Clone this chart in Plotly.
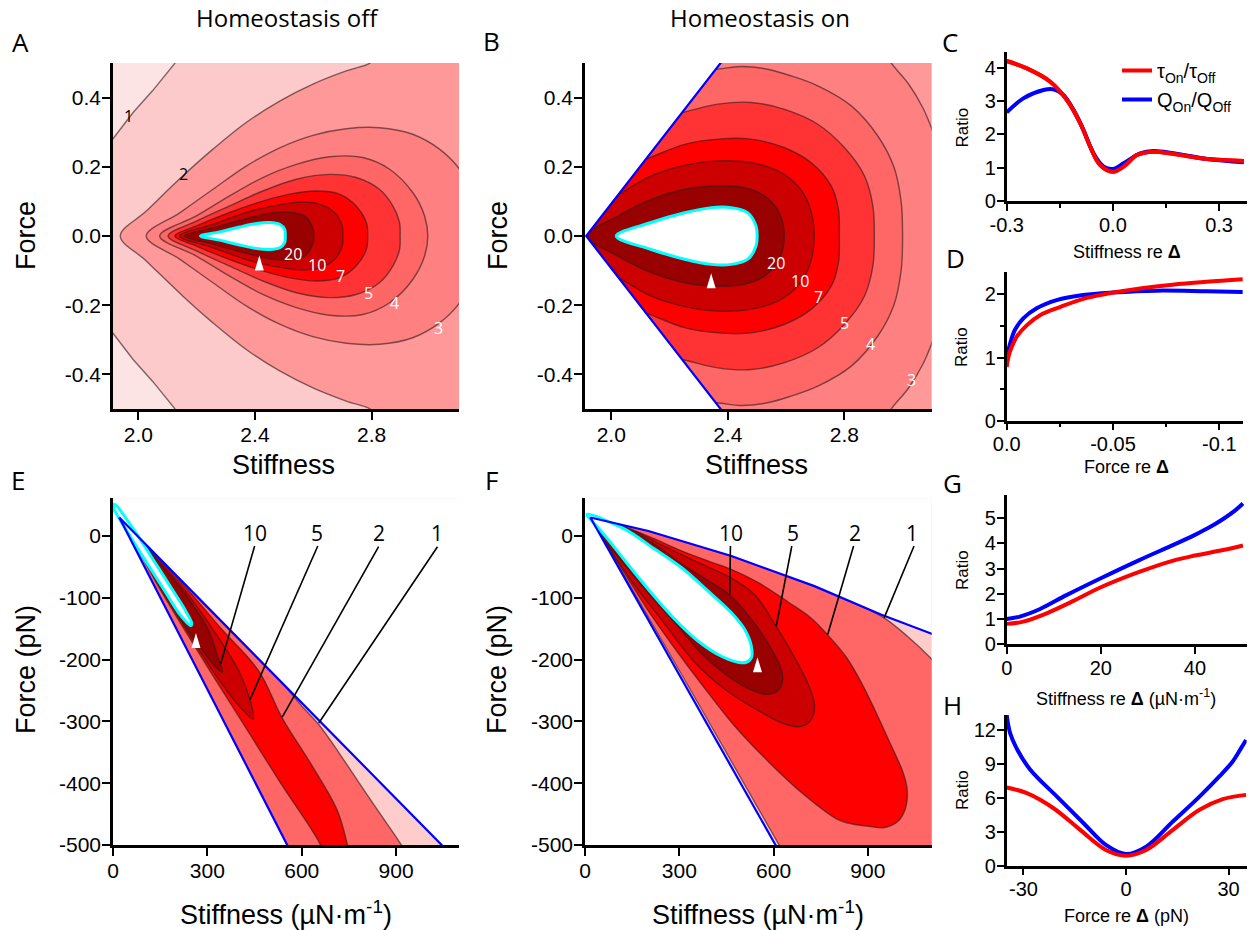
import plotly.graph_objects as go

W, H = 1255, 930

# ================= Panel C : ratio vs stiffness re Δ =================
C_tau_x = [-0.3, -0.243, -0.177, -0.13, -0.092, -0.064, -0.036, 0.0, 0.03, 0.068, 0.115, 0.172, 0.266, 0.37]
C_tau_y = [4.2, 3.98, 3.58, 3.03, 2.33, 1.63, 1.08, 0.88, 1.03, 1.38, 1.48, 1.41, 1.26, 1.2]
C_q_x = [-0.3, -0.253, -0.196, -0.168, -0.14, -0.111, -0.083, -0.055, -0.026, 0.0, 0.03, 0.077, 0.115, 0.172, 0.266, 0.37]
C_q_y = [2.66, 3.08, 3.33, 3.35, 3.18, 2.73, 2.13, 1.43, 1.03, 0.96, 1.13, 1.43, 1.5, 1.43, 1.26, 1.16]

# ================= Panel D : ratio vs force re Δ =================
D_tau_x = [0, -0.0008, -0.0024, -0.0047, -0.0094, -0.0157, -0.0251, -0.036, -0.05, -0.0627, -0.078, -0.094, -0.111]
D_tau_y = [0.85, 1.01, 1.17, 1.33, 1.51, 1.67, 1.80, 1.93, 2.03, 2.095, 2.155, 2.20, 2.24]
D_q_x = [0, -0.0016, -0.0039, -0.0078, -0.0141, -0.0235, -0.036, -0.05, -0.0705, -0.094, -0.111]
D_q_y = [0.99, 1.22, 1.44, 1.62, 1.78, 1.91, 1.99, 2.03, 2.06, 2.05, 2.04]

# ================= Panel G =================
G_q_x = [0, 2.8, 7.1, 12.7, 20, 28.3, 35.4, 40, 43, 46, 48.5, 50.2]
G_q_y = [1.0, 1.1, 1.4, 1.95, 2.62, 3.35, 3.94, 4.34, 4.63, 4.97, 5.3, 5.58]
G_tau_x = [0, 3.5, 8.5, 14.2, 20, 28.3, 35.4, 40, 46, 50.2]
G_tau_y = [0.81, 0.9, 1.23, 1.72, 2.26, 2.88, 3.32, 3.52, 3.74, 3.92]

# ================= Panel H =================
H_q_x = [-34.9, -33.9, -31.9, -28, -20.2, -12.4, -5.9, 0, 5.9, 13.7, 21.5, 27.3, 31.2, 33.7, 35.1]
H_q_y = [13.3, 11.7, 10.3, 8.47, 6.1, 3.75, 1.83, 1.03, 1.68, 3.9, 6.1, 7.88, 9.2, 10.4, 11.1]
H_tau_x = [-34.9, -29, -21.2, -13.4, -5.9, 0, 5.9, 13.7, 21.5, 28.3, 35.1]
H_tau_y = [6.9, 6.4, 5.07, 3.16, 1.39, 0.88, 1.39, 3.16, 4.93, 5.87, 6.25]

# ================= Panel A : contours (upper halves, mirrored about Force = 0) =================
A_frame_x = [1.8, 3.3, 3.3, 1.8]
A_frame_y = [-0.6, -0.6, 0.6, 0.6]
A_c1_x = [1.89, 1.913, 1.982, 2.050, 2.125, 2.15, 1.85]
A_c1_y = [0.255, 0.281, 0.357, 0.421, 0.499, 0.53, 0.56]
A_c2_x = [1.938, 2.027, 2.153, 2.256, 2.370, 2.485, 2.599, 2.713, 2.793, 2.82, 3.2, 3.2]
A_c2_y = [0, 0.072, 0.174, 0.251, 0.328, 0.39, 0.439, 0.477, 0.499, 0.52, 0.52, 0]
A_c3_x = [2.027, 2.142, 2.256, 2.370, 2.485, 2.599, 2.713, 2.827, 2.941, 3.033, 3.102, 3.16, 3.18]
A_c3_y = [0, 0.067, 0.135, 0.202, 0.255, 0.291, 0.310, 0.313, 0.294, 0.251, 0.193, 0.1, 0]
A_c4_x = [2.073, 2.199, 2.313, 2.427, 2.542, 2.656, 2.770, 2.862, 2.942, 2.982, 2.993]
A_c4_y = [0, 0.058, 0.116, 0.169, 0.207, 0.229, 0.227, 0.193, 0.125, 0.058, 0]
A_c5_x = [2.102, 2.199, 2.313, 2.427, 2.542, 2.656, 2.747, 2.827, 2.873, 2.896, 2.898]
A_c5_y = [0, 0.043, 0.087, 0.130, 0.164, 0.178, 0.169, 0.135, 0.087, 0.039, 0]
A_c7_x = [2.125, 2.199, 2.313, 2.427, 2.519, 2.610, 2.690, 2.747, 2.782, 2.787]
A_c7_y = [0, 0.029, 0.068, 0.101, 0.121, 0.130, 0.121, 0.087, 0.039, 0]
A_c10_x = [2.142, 2.256, 2.370, 2.462, 2.553, 2.622, 2.673, 2.699, 2.702]
A_c10_y = [0, 0.034, 0.068, 0.087, 0.098, 0.092, 0.068, 0.029, 0]
A_c20_x = [2.159, 2.256, 2.370, 2.450, 2.519, 2.570, 2.596, 2.602]
A_c20_y = [0, 0.024, 0.050, 0.066, 0.069, 0.058, 0.029, 0]
A_cyan_x = [2.213, 2.279, 2.347, 2.405, 2.450, 2.485, 2.502, 2.504]
A_cyan_y = [0, 0.012, 0.026, 0.036, 0.039, 0.034, 0.019, 0]
A_mark = (2.415, -0.078)
A_lab_text = ['1', '2', '20', '10', '7', '5', '4', '3']
A_lab_x = [1.966, 2.154, 2.531, 2.612, 2.694, 2.788, 2.880, 3.028]
A_lab_y = [0.347, 0.178, -0.053, -0.084, -0.116, -0.164, -0.193, -0.265]
A_lab_col = ['black', 'black', 'white', 'white', 'white', 'white', 'white', 'white']

# ================= Panel B =================
B_frame_x = [1.8, 3.3, 3.3, 1.8]
B_frame_y = [-0.6, -0.6, 0.6, 0.6]
B_blue_x = [2.394, 1.914, 2.394]
B_blue_y = [0.52, 0, -0.52]
B_cover_x = [1.914, 2.394, 1.8, 1.8, 2.394]
B_cover_y = [0, 0.52, 0.6, -0.6, -0.52]
B_c3_x = [1.85, 2.90, 2.961, 3.02, 3.07, 3.105, 3.14, 3.2, 3.22]
B_c3_y = [0.6, 0.58, 0.5, 0.44, 0.37, 0.30, 0.22, 0.1, 0]
B_c4_x = [1.85, 2.359, 2.45, 2.537, 2.62, 2.709, 2.824, 2.915, 2.970, 2.995, 3.0]
B_c4_y = [0.46, 0.482, 0.49, 0.482, 0.462, 0.434, 0.376, 0.289, 0.2, 0.1, 0]
B_c5_x = [1.85, 2.244, 2.366, 2.480, 2.595, 2.709, 2.801, 2.869, 2.898, 2.903]
B_c5_y = [0.28, 0.357, 0.381, 0.386, 0.366, 0.323, 0.255, 0.174, 0.087, 0]
B_c7_x = [1.85, 2.119, 2.252, 2.366, 2.480, 2.595, 2.686, 2.755, 2.780, 2.783]
B_c7_y = [0.14, 0.222, 0.265, 0.280, 0.280, 0.255, 0.212, 0.145, 0.077, 0]
B_c10_x = [1.85, 2.025, 2.137, 2.252, 2.366, 2.480, 2.572, 2.640, 2.680, 2.697]
B_c10_y = [0.04, 0.120, 0.174, 0.204, 0.217, 0.212, 0.188, 0.145, 0.087, 0]
B_c20_x = [1.914, 2.023, 2.137, 2.252, 2.366, 2.457, 2.526, 2.577, 2.594]
B_c20_y = [0, 0.058, 0.106, 0.135, 0.145, 0.140, 0.116, 0.067, 0]
B_cyan_x = [2.017, 2.137, 2.252, 2.343, 2.412, 2.469, 2.497, 2.501]
B_cyan_y = [0, 0.039, 0.067, 0.082, 0.082, 0.067, 0.029, 0]
B_mark = (2.343, -0.129)
B_lab_text = ['20', '10', '7', '5', '4', '3']
B_lab_x = [2.566, 2.649, 2.711, 2.80, 2.890, 3.029]
B_lab_y = [-0.077, -0.130, -0.176, -0.25, -0.311, -0.417]

# ================= Panel E (pN, µN/m) =================
E_frame_x = [-100, 1300, 1300, -100]
E_frame_y = [-600, -600, 200, 200]
E_blue_up_x = [20, 1083.7]
E_blue_up_y = [30, -520]
E_blue_lo_x = [20, 574]
E_blue_lo_y = [30, -520]
E_cov_up_x = [-100, 20, 1238, 1300, 1300, -100]
E_cov_up_y = [92, 30, -600, -600, 200, 200]
E_cov_lo_x = [20, 654.7, -100, -100]
E_cov_lo_y = [30, -600, -600, 92]
E_c1_x = [-100, 300, 480, 540, 600, 654, 720, 783, 850, 913, 945, 980, -100]
E_c1_y = [92, -114.8, -207.8, -239, -275, -305, -352, -400, -450, -497, -525, -600, -600]
E_c2_x = [30, 91, 150, 227, 309, 403, 533, 657, 690, 760, 744.1, 712.4, 627.9, 538, 464, 346.7, 237, 137, 30]
E_c2_y = [24, -32.4, -86.5, -151.4, -218.9, -294.6, -400, -497.3, -540, -540, -497.3, -443.2, -367.6, -294.6, -218.9, -151.4, -86.5, -32.4, 24]
E_c5_x = [35, 95, 154, 233, 318, 402, 446, 435.5, 400.6, 318, 226, 132, 35]
E_c5_y = [22, -32.4, -86.5, -151.4, -218.9, -275.7, -296.2, -264.9, -218.9, -151.4, -86.5, -32.4, 22]
E_c10_x = [38, 98, 158, 238, 315, 347.8, 334, 302.3, 218, 128, 38]
E_c10_y = [20, -32.4, -86.5, -151.4, -205.4, -220.5, -197.3, -151.4, -86.5, -32.4, 20]
E_cyan_x = [4.2, 65.5, 123.7, 185, 231.5, 250.5, 247.3, 210.3, 161.7, 100.4, 44.4, 2.1, 4.2]
E_cyan_y = [51.4, 10.8, -35.1, -83.8, -121.6, -141.6, -144.9, -125.4, -86.5, -37.8, 8.1, 45.9, 51.4]
E_mark = (263.7, -169.1)
E_lab_text = ['10', '5', '2', '1']
E_lab_x = [450.3, 649, 844.5, 1031.6]
E_lab_y = [5, 5, 5, 5]
E_lead_x0 = [450.3, 651.1, 844.5, 1031.6]
E_lead_y0 = [-16.2, -16.2, -17.3, -17.3]
E_lead_x1 = [342.5, 435.5, 538, 654.3]
E_lead_y1 = [-206.5, -264.9, -293, -302.7]

# ================= Panel F =================
F_frame_x = [-100, 1300, 1300, -100]
F_frame_y = [-650, -650, 200, 200]
F_blue_up_x = [17, 201.8, 465.8, 729.9, 941.2, 1099.6, 1200]
F_blue_up_y = [30, 8.1, -32.4, -81.1, -127, -157.8, -177]
F_blue_lo_x = [17, 672.8]
F_blue_lo_y = [30, -560]
F_cov_up_x = [-100, 17, 201.8, 465.8, 729.9, 941.2, 1099.6, 1200, 1200, -100]
F_cov_up_y = [43.9, 30, 8.1, -32.4, -81.1, -127, -157.8, -177, 200, 200]
F_cov_lo_x = [17, 717, -100, -100]
F_cov_lo_y = [30, -600, -600, 43.9]
F_c1_x = [-100, 17, 201.8, 465.8, 729.9, 880, 951.7, 1025.6, 1099.6, 1140, 1180, 1180, 752, 614, 296, 17]
F_c1_y = [43.9, 30, 8.1, -32.4, -81.1, -113.7, -132.4, -162.2, -197.3, -220, -250, -620, -620, -497, -214, 30]
F_c2_x = [20, 128, 223, 307, 400, 465, 550, 650, 720, 772, 830, 880, 930, 975, 1010, 1025, 1020, 995, 950, 908, 850, 801, 700, 589, 480, 377, 280, 200, 128, 60, 20]
F_c2_y = [28, 14, -5, -24, -42, -54, -75, -108, -133, -160, -195, -238, -290, -340, -380, -410, -440, -462, -472, -470, -466, -458, -420, -368, -310, -244, -178, -120, -62, -8, 28]
F_c5_x = [20, 128, 223, 307, 400, 465, 540, 608, 665, 710, 730, 722, 690, 640, 560, 450, 350, 250, 150, 60, 20]
F_c5_y = [28, 15, -9, -30, -52, -68, -95, -146, -195, -240, -272, -295, -308, -305, -285, -250, -205, -140, -74, -6, 28]
F_c10_x = [20, 128, 223, 307, 392, 460, 530, 590, 622, 629, 615, 576, 520, 450, 370, 290, 200, 128, 64, 20]
F_c10_y = [28, 13, -14, -45, -72, -95, -135, -180, -212, -232, -250, -256, -247, -225, -190, -143, -92, -48, -8, 28]
F_cyan_x = [6.3, 127.8, 222.9, 307.4, 391.9, 465.8, 508.1, 529.2, 529.2, 513.4, 487, 434.1, 360.2, 286.3, 201.8, 127.8, 64.4, 22.2, 6.3]
F_cyan_y = [35.1, 10.8, -21.6, -51.4, -89.2, -124.3, -151.4, -178.4, -197.3, -204.3, -204.3, -194.6, -170.3, -135.1, -86.5, -40.5, 0, 24.3, 35.1]
F_mark = (548.7, -208.3)
F_lab_text = ['10', '5', '2', '1']
F_lab_x = [465.8, 661.2, 858.8, 1041.5]
F_lab_y = [5, 5, 5, 5]
F_lead_x0 = [462.7, 658, 854.5, 1046.8]
F_lead_y0 = [-16.2, -16.2, -16.2, -16.2]
F_lead_x1 = [460.5, 608.4, 772.2, 951.7]
F_lead_y1 = [-94.6, -145.9, -159.5, -132.4]

# ================= styling =================
LC = 'rgba(50,28,28,0.62)'
RED = '#ff0000'
BLUE = '#0000ff'
CYAN = '#00ffff'
TFONT = 'Open Sans'
AFONT = 'Liberation Sans, Arial'

fig = go.Figure()


def add_poly(xs, ys, fill, ax, line_color=LC, lw=1.4, shape='spline'):
    fig.add_trace(go.Scatter(
        x=list(xs), y=list(ys), mode='lines', fill='toself', fillcolor=fill,
        line=dict(color=line_color, width=lw, shape=shape, simplify=False),
        xaxis='x' + ax, yaxis='y' + ax, hoverinfo='skip', showlegend=False))


def add_line(xs, ys, color, lw, ax, shape='linear', name=None, legend=False):
    fig.add_trace(go.Scatter(
        x=list(xs), y=list(ys), mode='lines', name=name,
        line=dict(color=color, width=lw, shape=shape),
        xaxis='x' + ax, yaxis='y' + ax, hoverinfo='skip', showlegend=legend))


def mirror(xs, ys):
    X = list(xs) + list(xs[-2::-1])
    Y = list(ys) + [-v for v in ys[-2::-1]]
    return X, Y


def neg(v):
    return [-a for a in v]


# ---------- Panel A ----------
add_poly(A_frame_x, A_frame_y, '#fccaca', '', lw=0, shape='linear')
add_poly(A_c1_x, A_c1_y, '#fde4e4', '', shape='linear')
add_poly(A_c1_x, neg(A_c1_y), '#fde4e4', '', shape='linear')
for cx, cy, col in [(A_c2_x, A_c2_y, '#ff9999'), (A_c3_x, A_c3_y, '#ff8080'),
                    (A_c4_x, A_c4_y, '#ff6666'), (A_c5_x, A_c5_y, '#ff3333'),
                    (A_c7_x, A_c7_y, '#ff0000'), (A_c10_x, A_c10_y, '#cc0000'),
                    (A_c20_x, A_c20_y, '#990000')]:
    X, Y = mirror(cx, cy)
    add_poly(X, Y, col, '')
X, Y = mirror(A_cyan_x, A_cyan_y)
add_poly(X, Y, 'white', '', line_color=CYAN, lw=3)

# ---------- Panel B ----------
add_poly(B_frame_x, B_frame_y, '#ff9999', '2', lw=0, shape='linear')
for cx, cy, col in [(B_c3_x, B_c3_y, '#ff8080'), (B_c4_x, B_c4_y, '#ff6666'),
                    (B_c5_x, B_c5_y, '#ff3333'), (B_c7_x, B_c7_y, '#ff0000'),
                    (B_c10_x, B_c10_y, '#cc0000'), (B_c20_x, B_c20_y, '#990000')]:
    X, Y = mirror(cx, cy)
    add_poly(X, Y, col, '2')
add_poly(B_cover_x, B_cover_y, 'white', '2', lw=0, shape='linear')
X, Y = mirror(B_cyan_x, B_cyan_y)
add_poly(X, Y, 'white', '2', line_color=CYAN, lw=3)
add_line(B_blue_x, B_blue_y, BLUE, 2.2, '2')

# ---------- Panel E ----------
add_poly(E_frame_x, E_frame_y, '#ffcccc', '5', lw=0, shape='linear')
add_poly(E_c1_x, E_c1_y, '#ff6666', '5')
add_poly(E_c2_x, E_c2_y, '#ff0000', '5')
add_poly(E_c5_x, E_c5_y, '#cc0000', '5')
add_poly(E_c10_x, E_c10_y, '#990000', '5')
add_poly(E_cov_up_x, E_cov_up_y, 'white', '5', lw=0, shape='linear')
add_poly(E_cov_lo_x, E_cov_lo_y, 'white', '5', lw=0, shape='linear')
add_poly(E_cyan_x, E_cyan_y, 'white', '5', line_color=CYAN, lw=3)
add_line(E_blue_up_x, E_blue_up_y, BLUE, 2.2, '5')
add_line(E_blue_lo_x, E_blue_lo_y, BLUE, 2.2, '5')
for i in range(len(E_lab_text)):
    add_line([E_lead_x0[i], E_lead_x1[i]], [E_lead_y0[i], E_lead_y1[i]], 'black', 1.6, '5')

# ---------- Panel F ----------
add_poly(F_frame_x, F_frame_y, '#ffcccc', '6', lw=0, shape='linear')
add_poly(F_c1_x, F_c1_y, '#ff6666', '6')
add_poly(F_c2_x, F_c2_y, '#ff0000', '6')
add_poly(F_c5_x, F_c5_y, '#cc0000', '6')
add_poly(F_c10_x, F_c10_y, '#990000', '6')
add_poly(F_cov_up_x, F_cov_up_y, 'white', '6', lw=0, shape='linear')
add_poly(F_cov_lo_x, F_cov_lo_y, 'white', '6', lw=0, shape='linear')
add_poly(F_cyan_x, F_cyan_y, 'white', '6', line_color=CYAN, lw=3)
add_line(F_blue_up_x, F_blue_up_y, BLUE, 2.2, '6')
add_line(F_blue_lo_x, F_blue_lo_y, BLUE, 2.2, '6')
for i in range(len(F_lab_text)):
    add_line([F_lead_x0[i], F_lead_x1[i]], [F_lead_y0[i], F_lead_y1[i]], 'black', 1.6, '6')

# ---------- ratio panels ----------
add_line(C_tau_x, C_tau_y, RED, 4, '3', 'spline', 'τ<sub>On</sub>/τ<sub>Off</sub>', True)
add_line(C_q_x, C_q_y, BLUE, 4, '3', 'spline', 'Q<sub>On</sub>/Q<sub>Off</sub>', True)
add_line(C_tau_x, C_tau_y, RED, 4, '3', 'spline')
add_line(D_q_x, D_q_y, BLUE, 4, '4', 'spline')
add_line(D_tau_x, D_tau_y, RED, 4, '4', 'spline')
add_line(G_q_x, G_q_y, BLUE, 4, '7', 'spline')
add_line(G_tau_x, G_tau_y, RED, 4, '7', 'spline')
add_line(H_q_x, H_q_y, BLUE, 4, '8', 'spline')
add_line(H_tau_x, H_tau_y, RED, 4, '8', 'spline')

# ================= axes =================
def px_x(p):
    return p / W


def px_y(p):
    return 1 - p / H


def axis(domain, rng, tickvals, ticktext, anchor, size=21, ticklen=8, minor=None, standoff=-3):
    d = dict(domain=domain, range=rng, tickvals=tickvals, ticktext=ticktext,
             anchor=anchor, showline=True, linecolor='black', linewidth=2.5,
             ticks='outside', ticklen=ticklen, tickwidth=2, tickcolor='black',
             showgrid=False, zeroline=False, ticklabelstandoff=standoff, automargin=False,
             tickfont=dict(family=AFONT, size=size, color='black'))
    if minor is not None:
        d['minor'] = dict(tickvals=minor, ticks='outside', ticklen=4, tickwidth=2, tickcolor='black', showgrid=False)
    return d


xA = [px_x(113), px_x(459)]
xB = [px_x(585), px_x(931.7)]
xS = [px_x(1006.7), px_x(1246.7)]
yTop = [px_y(409), px_y(63)]
yBot = [px_y(845), px_y(498.3)]

fy = ['-500', '-400', '-300', '-200', '-100', '0']
fv = [-500, -400, -300, -200, -100, 0]
S = 20

fig.update_layout(template='none')
fig.update_layout(
    xaxis=axis(xA, [1.913, 3.1], [2.0, 2.4, 2.8], ['2.0', '2.4', '2.8'], 'y'),
    yaxis=axis(yTop, [-0.5, 0.5], [-0.4, -0.2, 0, 0.2, 0.4], ['-0.4', '-0.2', '0.0', '0.2', '0.4'], 'x'),
    xaxis2=axis(xB, [1.910, 3.1], [2.0, 2.4, 2.8], ['2.0', '2.4', '2.8'], 'y2'),
    yaxis2=axis(yTop, [-0.5, 0.5], [-0.4, -0.2, 0, 0.2, 0.4], ['-0.4', '-0.2', '0.0', '0.2', '0.4'], 'x2'),
    xaxis3=axis(xS, [-0.3, 0.378], [-0.3, 0, 0.3], ['-0.3', '0.0', '0.3'], 'y3', size=S, ticklen=7, minor=[-0.15, 0.15]),
    yaxis3=axis([px_y(201), px_y(51.7)], [0, 4.48], [0, 1, 2, 3, 4], ['0', '1', '2', '3', '4'], 'x3', size=S, ticklen=7),
    xaxis4=axis([px_x(1006.7), px_x(1243.3)], [0, -0.1113], [0, -0.05, -0.1], ['0.0', '-0.05', '-0.1'], 'y4', size=S, ticklen=7, minor=[-0.025, -0.075]),
    yaxis4=axis([px_y(420.7), px_y(271.7)], [0, 2.36], [0, 1, 2], ['0', '1', '2'], 'x4', size=S, ticklen=7, minor=[0.5, 1.5]),
    xaxis5=axis(xA, [0, 1100], [0, 300, 600, 900], ['0', '300', '600', '900'], 'y5'),
    yaxis5=axis(yBot, [-500, 61], fv, fy, 'x5'),
    xaxis6=axis(xB, [0, 1103], [0, 300, 600, 900], ['0', '300', '600', '900'], 'y6'),
    yaxis6=axis(yBot, [-500, 61], fv, fy, 'x6'),
    xaxis7=axis(xS, [0, 51], [0, 20, 40], ['0', '20', '40'], 'y7', size=S, ticklen=7),
    yaxis7=axis([px_y(644.3), px_y(495)], [0, 5.92], [0, 1, 2, 3, 4, 5], ['0', '1', '2', '3', '4', '5'], 'x7', size=S, ticklen=7),
    xaxis8=axis(xS, [-34.9, 35.3], [-30, 0, 30], ['-30', '0', '30'], 'y8', size=S, ticklen=7),
    yaxis8=axis([px_y(865.7), px_y(715)], [0, 13.3], [0, 3, 6, 9, 12], ['0', '3', '6', '9', '12'], 'x8', size=S, ticklen=7),
)

# ================= annotations =================
ann = []


def pann(text, px, py, size, family=AFONT, angle=0, color='black'):
    ann.append(dict(text=text, x=px_x(px), y=px_y(py), xref='paper', yref='paper',
                    xanchor='center', yanchor='middle', showarrow=False, textangle=angle,
                    font=dict(family=family, size=size, color=color)))


pann('Homeostasis off', 287, 17, 24, TFONT)
pann('Homeostasis on', 760, 17, 24, TFONT)
for t, x, y in [('A', 20, 42), ('B', 491.7, 41), ('C', 950, 42), ('D', 955, 258),
                ('E', 18, 480), ('F', 491.7, 480), ('G', 953, 483), ('H', 953, 705)]:
    pann(t, x, y, 26, TFONT)

pann('Force', 26, 236, 27, angle=-90)
pann('Stiffness', 283, 465, 27)
pann('Force', 498, 236, 27, angle=-90)
pann('Stiffness', 757, 465, 27)
pann('Force (pN)', 26, 670, 27, angle=-90)
pann('Stiffness (µN·m<sup>-1</sup>)', 286, 913, 27)
pann('Force (pN)', 497, 670, 27, angle=-90)
pann('Stiffness (µN·m<sup>-1</sup>)', 758, 913, 27)

pann('Ratio', 961.5, 128, 17, angle=-90)
pann('Stiffness re <b>Δ</b>', 1126.5, 252.5, 18)
pann('Ratio', 962, 347, 17, angle=-90)
pann('Force re <b>Δ</b>', 1126, 467, 18)
pann('Ratio', 962, 570, 17, angle=-90)
pann('Stiffness re <b>Δ</b> (µN·m<sup>-1</sup>)', 1125.5, 697, 18)
pann('Ratio', 962, 790, 17, angle=-90)
pann('Force re <b>Δ</b> (pN)', 1126.5, 916, 18)

for t, x, y, c in zip(A_lab_text, A_lab_x, A_lab_y, A_lab_col):
    ann.append(dict(text=t, x=x, y=y, xref='x', yref='y', showarrow=False,
                    font=dict(family=TFONT, size=16, color=c)))
for t, x, y in zip(B_lab_text, B_lab_x, B_lab_y):
    ann.append(dict(text=t, x=x, y=y, xref='x2', yref='y2', showarrow=False,
                    font=dict(family=TFONT, size=16, color='white')))
for t, x, y in zip(E_lab_text, E_lab_x, E_lab_y):
    ann.append(dict(text=t, x=x, y=y, xref='x5', yref='y5', showarrow=False,
                    font=dict(family=TFONT, size=21, color='black')))
for t, x, y in zip(F_lab_text, F_lab_x, F_lab_y):
    ann.append(dict(text=t, x=x, y=y, xref='x6', yref='y6', showarrow=False,
                    font=dict(family=TFONT, size=21, color='black')))

# triangle markers (fixed pixel size, anchored at data points)
shapes = []
for (mx, my), xr, yr in [(A_mark, 'x', 'y'), (B_mark, 'x2', 'y2'), (E_mark, 'x5', 'y5'), (F_mark, 'x6', 'y6')]:
    shapes.append(dict(type='path', xref=xr, yref=yr, xsizemode='pixel', ysizemode='pixel',
                       xanchor=mx, yanchor=my, path='M -4.5 -7.5 L 4.5 -7.5 L 0 7.5 Z',
                       fillcolor='white', line=dict(width=0)))

fig.update_layout(
    width=W, height=H, margin=dict(l=0, r=0, t=0, b=0, pad=0, autoexpand=False),
    paper_bgcolor='white', plot_bgcolor='white',
    annotations=ann, shapes=shapes,
    showlegend=True,
    legend=dict(x=px_x(1117), y=px_y(51), xanchor='left', yanchor='top',
                bgcolor='rgba(0,0,0,0)', font=dict(family=AFONT, size=20, color='black'),
                itemwidth=30, tracegroupgap=0),
    font=dict(family=AFONT, color='black'),
)

fig.write_html('out.html', config={'displayModeBar': False},
               post_script="document.body.style.margin='0px';")
